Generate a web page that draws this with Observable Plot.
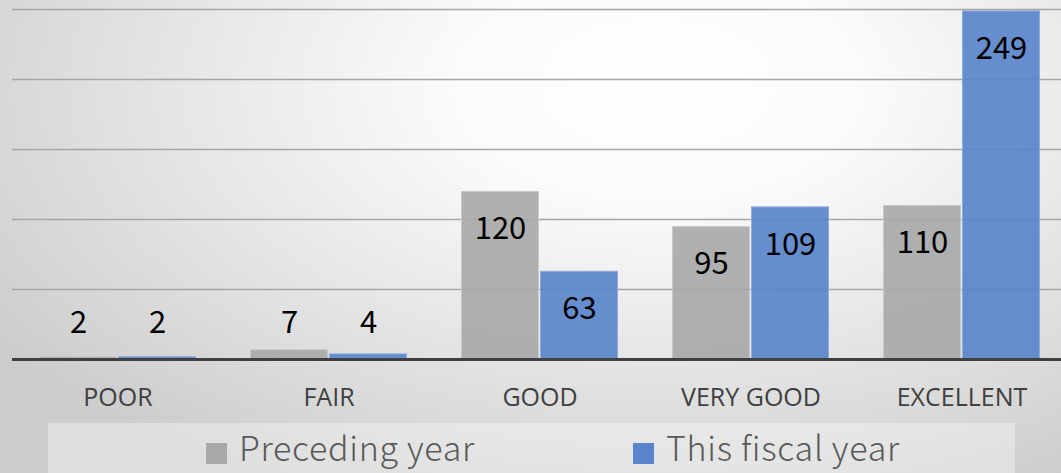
<!DOCTYPE html>
<html>
<head>
<meta charset="utf-8">
<script src="https://cdn.jsdelivr.net/npm/d3@7"></script>
<script src="https://cdn.jsdelivr.net/npm/@observablehq/plot@0.6"></script>
<style>
  html, body { margin: 0; padding: 0; }
  #wrap {
    position: relative; width: 1061px; height: 473px; overflow: hidden;
    background: radial-gradient(ellipse 75% 95% at 62% 18%, #ffffff 0%, #fbfbfb 25%, #e6e6e6 60%, #cdcdcd 100%);
  }
  #legend {
    position: absolute; left: 48px; top: 423px; width: 967px; height: 50px;
    background: rgba(255,255,255,0.35);
    font-family: "Noto Sans CJK JP", "Noto Sans", sans-serif; font-weight: 300;
    font-size: 34px; color: #595959; letter-spacing: 0.7px;
  }
  .item { position: absolute; top: 4px; line-height: 40px; white-space: nowrap; }
  .sw { display: inline-block; width: 21px; height: 21px; margin-right: 12px; vertical-align: -3px; }
</style>
</head>
<body>
<div id="wrap"><div id="chart"></div><div id="legend"></div></div>
<script>
const categories = ["POOR", "FAIR", "GOOD", "VERY GOOD", "EXCELLENT"];
const seriesNames = ["Preceding year", "This fiscal year"];
const precedingYear = [2, 7, 120, 95, 110];
const thisFiscalYear = [2, 4, 63, 109, 249];
const gridTicks = [50, 100, 150, 200, 250];
const colors = ["#a9a9a9", "#5a84cb"];
const strokes = ["#c9c9c9", "#8eabdf"];

const data = [];
categories.forEach((c, i) => {
  data.push({cat: c, series: seriesNames[0], value: precedingYear[i]});
  data.push({cat: c, series: seriesNames[1], value: thisFiscalYear[i]});
});

const W = 1061, H = 420;
const chart = Plot.plot({
  width: W, height: H,
  marginTop: 9, marginBottom: 61, marginLeft: 12, marginRight: -6,
  style: {background: "transparent", overflow: "visible"},
  fx: {domain: categories, padding: 0},
  x: {domain: seriesNames, paddingInner: 0.01, paddingOuter: 0.335, axis: null},
  y: {domain: [0, 250], axis: null},
  color: {domain: seriesNames, range: colors},
  marks: [
    Plot.ruleY(gridTicks, {stroke: "#a6a6a6", strokeWidth: 1.5, strokeOpacity: 1}),
    Plot.barY(data, {fx: "cat", x: "series", y: "value", fill: "series", fillOpacity: 0.92,
      stroke: d => strokes[seriesNames.indexOf(d.series)], strokeWidth: 1, inset: 0.5}),
    Plot.ruleY([0], {stroke: "#404040", strokeWidth: 3}),
    Plot.text(data, {fx: "cat", x: "series", y: d => Math.max(d.value, 53), dy: 38,
      text: d => String(d.value), fill: "#000", fontSize: 31,
      fontFamily: "'Noto Sans CJK JP', 'Noto Sans', sans-serif", lineAnchor: "middle"}),
    Plot.axisFx({anchor: "bottom", tickSize: 0, tickPadding: 29, fontSize: 25, fill: "#404040",
      label: null, fontFamily: "'Open Sans', 'Noto Sans', sans-serif"})
  ]
});
document.getElementById("chart").appendChild(chart);

const legend = document.getElementById("legend");
const legendX = [158, 585];
seriesNames.forEach((s, i) => {
  const it = document.createElement("div");
  it.className = "item";
  it.style.left = legendX[i] + "px";
  const sw = document.createElement("span");
  sw.className = "sw"; sw.style.background = colors[i];
  it.appendChild(sw);
  it.appendChild(document.createTextNode(s));
  legend.appendChild(it);
});
</script>
</body>
</html>
